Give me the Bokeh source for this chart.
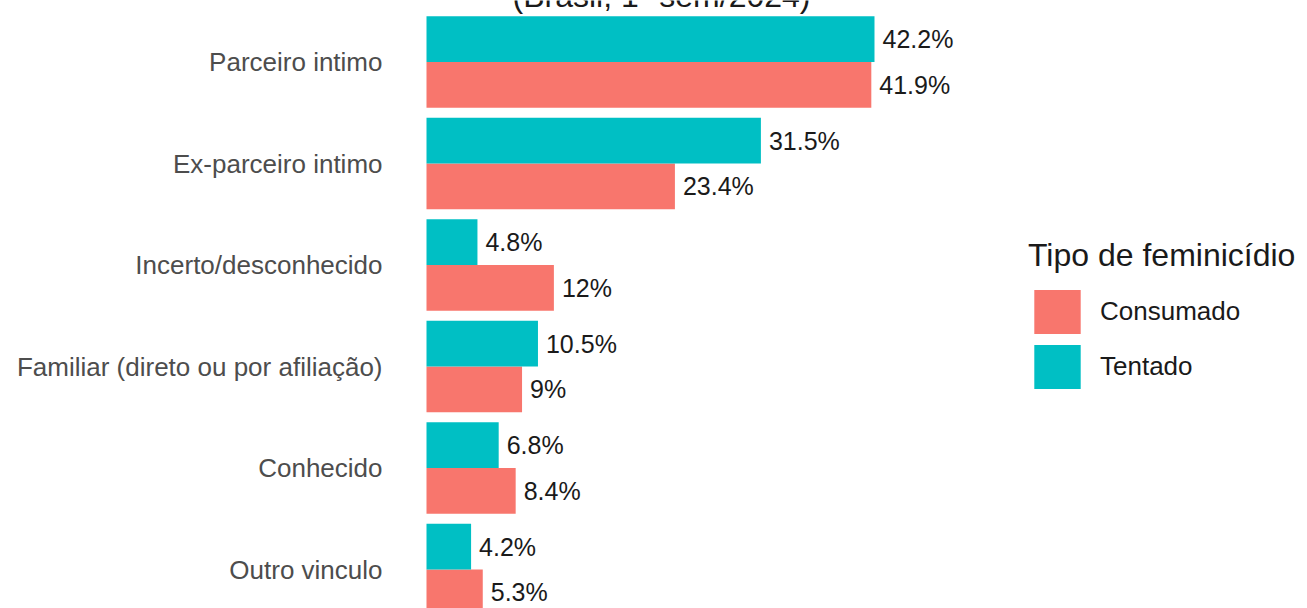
from bokeh.plotting import figure
from bokeh.models import ColumnDataSource, Range1d, FixedTicker, Label, Legend, LegendItem
from bokeh.core.properties import value
from bokeh.embed import file_html
from bokeh.resources import INLINE

# ---- data ----
categories = ["Parceiro intimo", "Ex-parceiro intimo", "Incerto/desconhecido",
              "Familiar (direto ou por afiliação)", "Conhecido", "Outro vinculo"]
tentado = [42.2, 31.5, 4.8, 10.5, 6.8, 4.2]
consumado = [41.9, 23.4, 12, 9, 8.4, 5.3]
series = ["Consumado", "Tentado"]
colors = ["#F8766D", "#00BFC4"]
title_text = "(Brasil, 1º sem/2024)"
legend_title = "Tipo de feminicídio"

FONT = "Liberation Sans"
n = len(categories)
pos = [n - i for i in range(n)]  # first category on top
bar_h = 0.45

src_c = ColumnDataSource(dict(y=[p_ - bar_h / 2 for p_ in pos], v=consumado,
                              lab=[f"{v:g}%" for v in consumado]))
src_t = ColumnDataSource(dict(y=[p_ + bar_h / 2 for p_ in pos], v=tentado,
                              lab=[f"{v:g}%" for v in tentado]))

W, H = 1307, 608
frame_left = 390
px_per_unit = 10.616
zero_x = 426

p = figure(width=W, height=H, output_backend="svg", toolbar_location=None,
           x_range=Range1d(-(zero_x - frame_left) / px_per_unit, (W - zero_x) / px_per_unit),
           y_range=Range1d(0.616, 6.606),
           min_border_left=frame_left, min_border_right=0,
           min_border_top=0, min_border_bottom=0)
p.outline_line_color = None
p.xgrid.visible = False
p.ygrid.visible = False
p.xaxis.visible = False
p.background_fill_color = "white"
p.border_fill_color = "white"

r_c = p.hbar(y="y", right="v", left=0, height=bar_h, source=src_c,
             fill_color=colors[0], line_color=None)
r_t = p.hbar(y="y", right="v", left=0, height=bar_h, source=src_t,
             fill_color=colors[1], line_color=None)

for s in (src_c, src_t):
    p.text(x="v", y="y", text="lab", source=s, x_offset=8,
           text_baseline="middle", text_align="left",
           text_font=value(FONT), text_font_size="25px", text_color="#1a1a1a")

yax = p.yaxis[0]
yax.ticker = FixedTicker(ticks=pos)
yax.major_label_overrides = {p_: c for p_, c in zip(pos, categories)}
yax.axis_line_color = None
yax.major_tick_line_color = None
yax.minor_tick_line_color = None
yax.major_tick_out = 0
yax.major_label_standoff = 8
yax.major_label_text_font = FONT
yax.major_label_text_font_size = "26px"
yax.major_label_text_color = "#4d4d4d"

title = Label(x=271, y=613, x_units="screen", y_units="screen", text=title_text,
              text_align="center", text_baseline="alphabetic",
              text_font=FONT, text_font_size="32px", text_color="#1a1a1a")
p.add_layout(title)

legend = Legend(items=[LegendItem(label=series[0], renderers=[r_c]),
                       LegendItem(label=series[1], renderers=[r_t])],
                location=(1028 - frame_left, H - 394),
                title=legend_title, title_text_font=FONT, title_text_font_size="32px",
                title_text_font_style="normal",
                title_text_color="#1a1a1a", title_standoff=10,
                label_text_font=FONT, label_text_font_size="26px", label_text_color="#1a1a1a",
                glyph_width=58, glyph_height=55, spacing=0, label_standoff=14,
                padding=0, margin=0, border_line_color=None, background_fill_alpha=0)
p.add_layout(legend, "center")

open("out.html", "w").write(file_html(p, INLINE))
